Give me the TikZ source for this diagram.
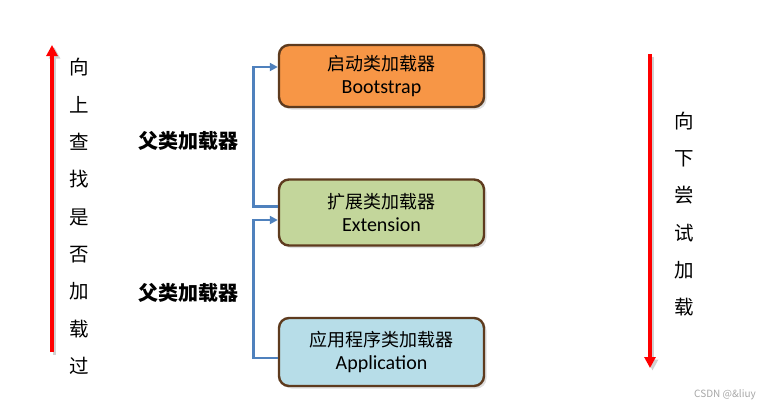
\documentclass[tikz,border=0pt]{standalone}
\usepackage{fontspec}
\setmainfont{Carlito}
\newfontfamily\cjk{Noto Sans CJK SC}
\usetikzlibrary{arrows.meta,shadows,calc}
\definecolor{borderbrown}{HTML}{5E3B1E}
\definecolor{orangefill}{HTML}{F79646}
\definecolor{greenfill}{HTML}{C3D69B}
\definecolor{bluefill}{HTML}{B7DDE8}
\definecolor{connblue}{HTML}{4F81BD}
\tikzset{
  loader/.style={draw=borderbrown, line width=2.4pt, rounded corners=10pt,
    minimum width=205pt, align=center, inner sep=0pt,
    font=\fontsize{20}{23}\selectfont,
    drop shadow={opacity=0.25, shadow xshift=2.5pt, shadow yshift=-2.5pt}},
  conn/.style={draw=connblue, line width=2.8pt, -{Triangle[length=8pt,width=8pt]}},
  redarrow/.style={draw=red, line width=3.8pt, -{Triangle[length=11pt,width=11pt]}},
  arrowshadow/.style={draw=black!18, line width=3.8pt, -{Triangle[length=11pt,width=11pt]}},
  sidetext/.style={align=center, font=\cjk\fontsize{19.5}{37.3}\selectfont, inner sep=0pt},
  parentlabel/.style={font=\cjk\bfseries\fontsize{20}{22}\selectfont, inner sep=0pt}
}
\newcommand{\boxtext}[2]{{\cjk\fontsize{18}{23}\selectfont #1}\\{#2}}
\begin{document}
\begin{tikzpicture}[x=1pt,y=-1pt]
\useasboundingbox (0,0) rectangle (773,410);
\node[loader, fill=orangefill, minimum height=62pt] (boot) at (381.5,76) {\boxtext{启动类加载器}{Bootstrap}};
\node[loader, fill=greenfill, minimum height=66pt] (ext) at (381.5,212.5) {\boxtext{扩展类加载器}{Extension}};
\node[loader, fill=bluefill, minimum height=68pt] (app) at (381.5,352) {\boxtext{应用程序类加载器}{Application}};
\draw[conn] ([yshift=6pt]ext.west) -- ++(-24,0) |- ([yshift=9pt]boot.west);
\draw[conn] ([yshift=-6pt]app.west) -- ++(-24,0) |- ([yshift=-7.5pt]ext.west);
\node[parentlabel] (p1) at (188,141) {父类加载器};
\node[parentlabel] (p2) at (188,293) {父类加载器};
\coordinate (lb) at (52,352);
\coordinate (lt) at (52,45);
\coordinate (lbs) at (54.5,354.5);
\coordinate (lts) at (54.5,47.5);
\draw[arrowshadow] (lbs) -- (lts);
\draw[redarrow] (lb) -- (lt);
\coordinate (rt) at (650,54);
\coordinate (rb) at (650,368);
\coordinate (rts) at (652.5,56.5);
\coordinate (rbs) at (652.5,370.5);
\draw[arrowshadow] (rts) -- (rbs);
\draw[redarrow] (rt) -- (rb);
\node[sidetext] (up) at (79,216.5) {向\\上\\查\\找\\是\\否\\加\\载\\过};
\node[sidetext] (down) at (684,214) {向\\下\\尝\\试\\加\\载};
\node[font=\cjk\fontsize{10}{12}\selectfont, text=gray!70, inner sep=0pt] (wm) at (725,395) {CSDN @\&liuy};
\end{tikzpicture}
\end{document}
